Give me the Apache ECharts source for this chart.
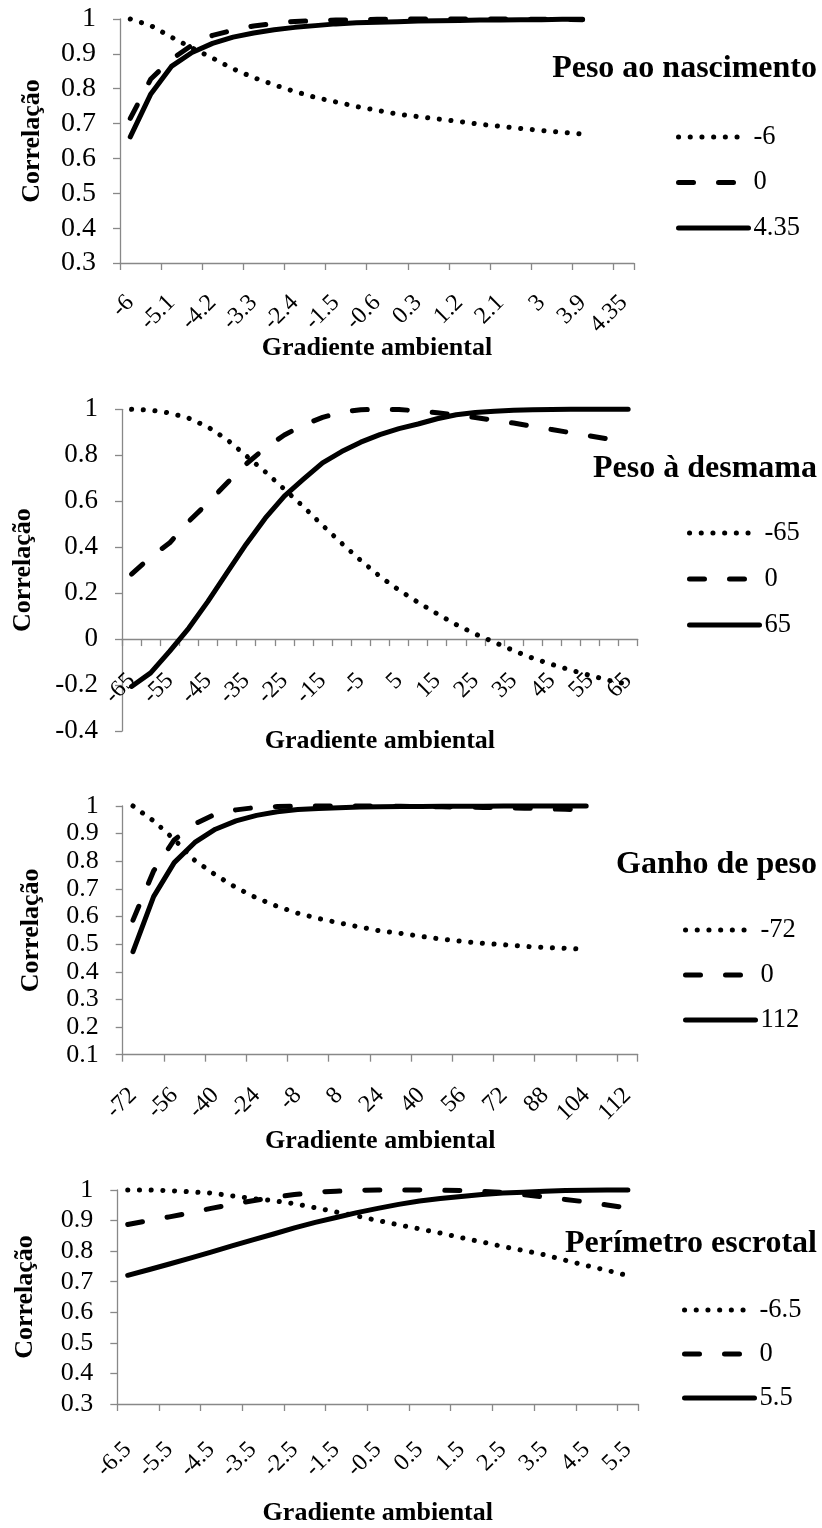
<!DOCTYPE html>
<html>
<head>
<meta charset="utf-8">
<script src="https://cdn.jsdelivr.net/npm/echarts@6/dist/echarts.min.js"></script>
<style>
  html, body { margin: 0; padding: 0; background: #ffffff; }
  #chart { width: 822px; height: 1528px; }
</style>
</head>
<body>
<div id="chart"></div>
<script>
// ---- Peso ao nascimento ----
const pnGradient = ['-6','-5.55','-5.1','-4.65','-4.2','-3.75','-3.3','-2.85','-2.4','-1.95','-1.5','-1.05',
  '-0.6','-0.15','0.3','0.75','1.2','1.65','2.1','2.55','3','3.45','3.9','','4.35'];
const pnSeriesNames = ['-6', '0', '4.35'];
const pnLow  = [1.000, 0.981, 0.948, 0.917, 0.888, 0.857, 0.832, 0.811, 0.792, 0.775, 0.762, 0.749,
  0.738, 0.727, 0.720, 0.713, 0.706, 0.698, 0.692, 0.686, 0.680, 0.675, 0.670];
const pnZero = [0.715, 0.828, 0.884, 0.925, 0.953, 0.968, 0.980, 0.987, 0.993, 0.995, 0.997, 0.998,
  0.999, 1.000, 1.000, 1.000, 1.000, 1.000, 1.000, 1.000, 0.999, 0.999, 0.998];
const pnHigh = [0.662, 0.785, 0.864, 0.904, 0.930, 0.948, 0.960, 0.969, 0.976, 0.981, 0.986, 0.989,
  0.991, 0.992, 0.994, 0.995, 0.996, 0.997, 0.997, 0.998, 0.998, 0.999, 0.999];

// ---- Peso à desmama ----
const pdGradient = ['-65','-60','-55','-50','-45','-40','-35','-30','-25','-20','-15','-10','-5','0',
  '5','10','15','20','25','30','35','40','45','50','55','60','65'];
const pdSeriesNames = ['-65', '0', '65'];
const pdLow  = [1.000, 0.996, 0.984, 0.961, 0.923, 0.868, 0.798, 0.728, 0.652, 0.576, 0.495, 0.417,
  0.342, 0.273, 0.213, 0.160, 0.110, 0.063, 0.022, -0.014, -0.050, -0.083, -0.110, -0.135, -0.158, -0.180, -0.197];
const pdZero = [0.283, 0.357, 0.419, 0.513, 0.593, 0.679, 0.762, 0.832, 0.888, 0.932, 0.965, 0.988,
  0.998, 1.000, 0.999, 0.993, 0.985, 0.975, 0.964, 0.952, 0.940, 0.926, 0.912, 0.898, 0.884, 0.870, 0.856];
const pdHigh = [-0.206, -0.147, -0.052, 0.048, 0.164, 0.289, 0.413, 0.526, 0.622, 0.696, 0.767, 0.816,
  0.857, 0.890, 0.916, 0.936, 0.959, 0.976, 0.986, 0.992, 0.996, 0.998, 0.999, 1.000, 1.000, 1.000, 1.000];

// ---- Ganho de peso ----
const gpGradient = ['-72','-64','-56','-48','-40','-32','-24','-16','-8','0','8','16','24','32','40',
  '48','56','64','72','80','88','96','104','','112'];
const gpSeriesNames = ['-72', '0', '112'];
const gpLow  = [1.000, 0.946, 0.879, 0.803, 0.751, 0.705, 0.667, 0.637, 0.612, 0.593, 0.577, 0.562,
  0.548, 0.539, 0.528, 0.518, 0.510, 0.503, 0.498, 0.492, 0.488, 0.485, 0.481];
const gpZero = [0.587, 0.765, 0.877, 0.935, 0.971, 0.986, 0.995, 0.998, 1.000, 1.000, 1.000, 1.000,
  1.000, 0.999, 0.998, 0.997, 0.996, 0.995, 0.993, 0.992, 0.990, 0.988, 0.986];
const gpHigh = [0.473, 0.672, 0.795, 0.868, 0.916, 0.946, 0.966, 0.979, 0.987, 0.991, 0.994, 0.996,
  0.997, 0.998, 0.998, 0.999, 0.999, 0.999, 1.000, 1.000, 1.000, 1.000, 1.000];

// ---- Perímetro escrotal ----
const peGradient = ['-6.5','-6','-5.5','-5','-4.5','-4','-3.5','-3','-2.5','-2','-1.5','-1','-0.5','0',
  '0.5','1','1.5','2','2.5','3','3.5','4','4.5','5','5.5'];
const peSeriesNames = ['-6.5', '0', '5.5'];
const peLow  = [1.000, 1.000, 0.998, 0.994, 0.990, 0.981, 0.972, 0.965, 0.955, 0.942, 0.928, 0.915,
  0.900, 0.886, 0.873, 0.859, 0.844, 0.830, 0.815, 0.802, 0.788, 0.770, 0.753, 0.737, 0.720];
const peZero = [0.887, 0.900, 0.912, 0.925, 0.940, 0.953, 0.965, 0.976, 0.985, 0.993, 0.996, 0.999,
  1.000, 1.000, 1.000, 0.999, 0.998, 0.996, 0.992, 0.985, 0.977, 0.969, 0.961, 0.951, 0.941];
const peHigh = [0.721, 0.739, 0.758, 0.777, 0.797, 0.817, 0.837, 0.856, 0.876, 0.894, 0.910, 0.926,
  0.940, 0.953, 0.964, 0.972, 0.979, 0.985, 0.990, 0.993, 0.996, 0.998, 0.999, 1.000, 1.000];

const SERIF = 'Liberation Serif';
const AXIS_GREY = '#888888';
const LINE_W = 5;
// dotted, dashed and solid strokes
const DASHES = [[0.1, 11.6], [15, 25], null];

const panels = [
  { title: 'Peso ao nascimento', names: pnSeriesNames, cats: pnGradient, data: [pnLow, pnZero, pnHigh],
    grid: { left: 120, top: 19, width: 514, height: 244 }, y: [0.3, 1, 0.1], tickEvery: 1, yFont: 28,
    yGap: 75, xGap: 72, xMargin: 36, legend: { left: 676, top: 122, itemGap: 15.5 }, titleTop: 53 },
  { title: 'Peso à desmama', names: pdSeriesNames, cats: pdGradient, data: [pdLow, pdZero, pdHigh],
    grid: { left: 122, top: 409.3, width: 515.7, height: 321.7 }, y: [-0.4, 1, 0.2], tickEvery: 0, yFont: 27,
    yGap: 86, xGap: 89, xMargin: 38, legend: { left: 687, top: 518, itemGap: 16 }, titleTop: 453 },
  { title: 'Ganho de peso', names: gpSeriesNames, cats: gpGradient, data: [gpLow, gpZero, gpHigh],
    grid: { left: 122.7, top: 806, width: 515, height: 248.7 }, y: [0.1, 1, 0.1], tickEvery: 1, yFont: 26,
    yGap: 78, xGap: 74, xMargin: 37, legend: { left: 683, top: 915, itemGap: 15 }, titleTop: 849 },
  { title: 'Perímetro escrotal', names: peSeriesNames, cats: peGradient, data: [peLow, peZero, peHigh],
    grid: { left: 117.3, top: 1190, width: 521, height: 214 }, y: [0.3, 1, 0.1], tickEvery: 1, yFont: 26,
    yGap: 79, xGap: 96, xMargin: 42, legend: { left: 682, top: 1295, itemGap: 14 }, titleTop: 1228 }
];

const option = {
  animation: false,
  backgroundColor: '#ffffff',
  title: [], legend: [], grid: [], xAxis: [], yAxis: [], series: []
};

panels.forEach(function (p, k) {
  option.grid.push(Object.assign({ outerBoundsMode: 'none', containLabel: false }, p.grid));

  option.title.push({
    text: p.title, right: 5, top: p.titleTop, padding: 0,
    textStyle: { fontFamily: SERIF, fontWeight: 'bold', fontSize: 32, lineHeight: 32, color: '#000' }
  });

  option.legend.push({
    orient: 'vertical', left: p.legend.left, top: p.legend.top, itemGap: p.legend.itemGap, padding: 0,
    itemWidth: 70, itemHeight: 14, selectedMode: false,
    data: p.names,
    itemStyle: { opacity: 0, color: 'rgba(0,0,0,0)', borderWidth: 0 },
    lineStyle: { width: LINE_W },
    textStyle: { fontFamily: SERIF, fontSize: 26.5, color: '#000', lineHeight: 30 }
  });

  // the category axis sits on the y = 0 line of its grid
  const zeroShift = p.y[0] < 0 ? -p.grid.height * (0 - p.y[0]) / (p.y[1] - p.y[0]) : 0;

  option.xAxis.push({
    type: 'category', gridIndex: k, data: p.cats, boundaryGap: true, offset: zeroShift,
    name: 'Gradiente ambiental', nameLocation: 'middle', nameGap: p.xGap, nameMoveOverlap: false,
    nameTextStyle: { fontFamily: SERIF, fontWeight: 'bold', fontSize: 26, color: '#000' },
    axisLine: { onZero: false, lineStyle: { color: AXIS_GREY, width: 1.3 } },
    axisTick: { show: true, interval: p.tickEvery, length: 7, lineStyle: { color: AXIS_GREY, width: 1.3 } },
    axisLabel: { interval: 1, rotate: 45, margin: p.xMargin, showMinLabel: true, showMaxLabel: true,
      hideOverlap: false, fontFamily: SERIF, fontSize: 24, color: '#000' },
    splitLine: { show: false }
  });

  option.yAxis.push({
    type: 'value', gridIndex: k, min: p.y[0], max: p.y[1], interval: p.y[2],
    name: 'Correlação', nameLocation: 'middle', nameRotate: 90, nameGap: p.yGap, nameMoveOverlap: false,
    nameTextStyle: { fontFamily: SERIF, fontWeight: 'bold', fontSize: 26, color: '#000' },
    axisLine: { show: true, lineStyle: { color: AXIS_GREY, width: 1.3 } },
    axisTick: { show: true, length: 7, lineStyle: { color: AXIS_GREY, width: 1.3 } },
    axisLabel: { margin: 24, showMinLabel: true, showMaxLabel: true, hideOverlap: false,
      fontFamily: SERIF, fontSize: p.yFont, color: '#000',
      formatter: function (v) { return String(+v.toFixed(2)); } },
    splitLine: { show: false }
  });

  p.names.forEach(function (name, s) {
    option.series.push({
      type: 'line', name: name, xAxisIndex: k, yAxisIndex: k,
      data: p.data[s], symbol: 'none', smooth: false, clip: false,
      lineStyle: { color: '#000', width: LINE_W, type: DASHES[s] || 'solid', cap: 'round', join: 'round' },
      itemStyle: { color: '#000' },
      emphasis: { disabled: true }
    });
  });
});

const chart = echarts.init(document.getElementById('chart'), null, { renderer: 'canvas' });
chart.setOption(option);
</script>
</body>
</html>
